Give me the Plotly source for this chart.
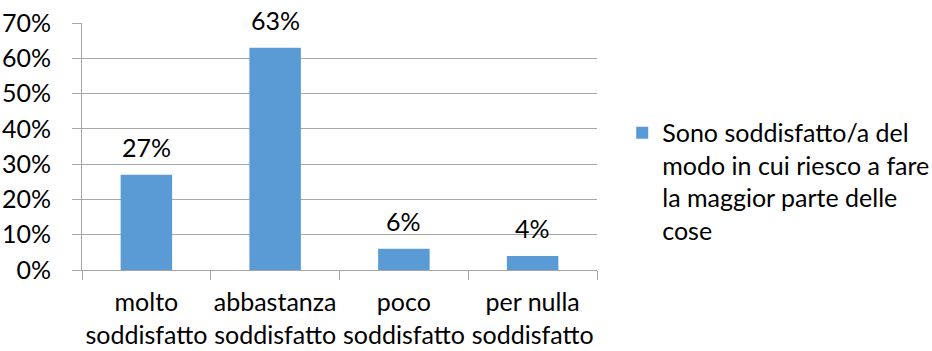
import plotly.graph_objects as go

categories = ["molto<br>soddisfatto", "abbastanza<br>soddisfatto", "poco<br>soddisfatto", "per nulla<br>soddisfatto"]
values = [0.27, 0.63, 0.06, 0.04]
labels = ["27%", "63%", "6%", "4%"]
series_name = "Sono soddisfatto/a del<br>modo in cui riesco a fare<br>la maggior parte delle<br>cose"
y_ticks = [0, 0.1, 0.2, 0.3, 0.4, 0.5, 0.6, 0.7]
y_tick_text = ["0%", "10%", "20%", "30%", "40%", "50%", "60%", "70%"]

FONT = "Lato"
FS = 25
GRID = "#a6a6a6"

fig = go.Figure()
fig.add_trace(go.Bar(
    x=categories, y=values, name=series_name,
    marker=dict(color="#5b9bd5", line=dict(width=0)),
    showlegend=True,
))

# value labels sit a little above each bar top
for cat, val, lab in zip(categories, values, labels):
    fig.add_annotation(
        x=cat, y=val, text=lab, showarrow=False,
        xanchor="center", yanchor="bottom", yshift=11,
        font=dict(family=FONT, size=FS, color="#000000"),
    )

fig.update_layout(
    width=932, height=351,
    margin=dict(l=82, r=335, t=23, b=81, autoexpand=False),
    paper_bgcolor="white", plot_bgcolor="white",
    font=dict(family=FONT, size=FS, color="#000000"),
    bargap=0.6,
    showlegend=True,
    legend=dict(x=1.049, y=0.648, xanchor="left", yanchor="top",
                valign="top", itemwidth=30, tracegroupgap=0,
                font=dict(family=FONT, size=FS, color="#000000"),
                bgcolor="rgba(0,0,0,0)"),
)
fig.update_xaxes(
    showline=True, linecolor=GRID, linewidth=1,
    ticks="outside", ticklen=9, tickcolor=GRID, tickson="boundaries",
    showgrid=False, ticklabelstandoff=10, tickangle=0, automargin=False,
)
fig.update_yaxes(
    range=[0, 0.7], tickvals=y_ticks, ticktext=y_tick_text,
    showline=True, linecolor=GRID, linewidth=1,
    ticks="outside", ticklen=9, tickcolor=GRID,
    showgrid=True, gridcolor=GRID, gridwidth=1, zeroline=False,
    ticklabelstandoff=16, automargin=False,
)

fig.write_html("out.html")
